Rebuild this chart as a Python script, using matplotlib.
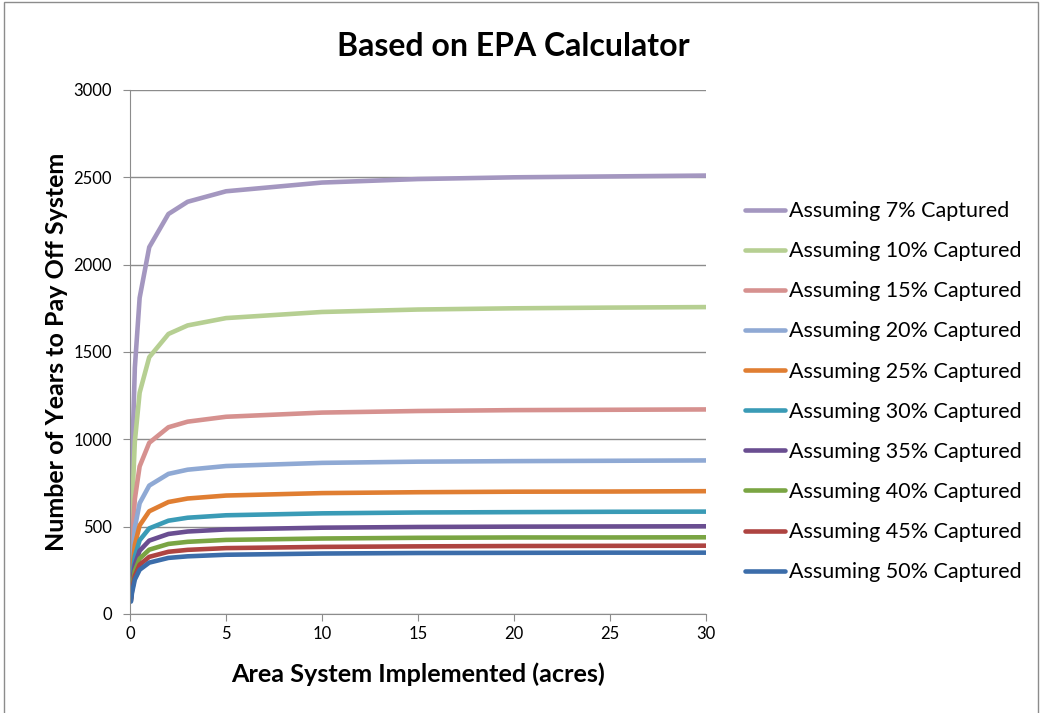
"""Years to pay off system vs. implemented area, based on EPA calculator."""

import matplotlib
matplotlib.use("Agg")
import matplotlib.pyplot as plt
from matplotlib.patches import Rectangle

plt.rcParams["font.family"] = ["Lato", "DejaVu Sans"]

acres = [0.05, 0.1, 0.25, 0.5, 1, 2, 3, 5, 10, 15, 20, 25, 30]

labels = [
    "Assuming 7% Captured",
    "Assuming 10% Captured",
    "Assuming 15% Captured",
    "Assuming 20% Captured",
    "Assuming 25% Captured",
    "Assuming 30% Captured",
    "Assuming 35% Captured",
    "Assuming 40% Captured",
    "Assuming 45% Captured",
    "Assuming 50% Captured",
]

years_7 = [510, 850, 1410, 1810, 2100, 2290, 2360, 2420, 2470, 2490, 2500, 2505, 2510]
years_10 = [357, 595, 987, 1267, 1470, 1603, 1652, 1694, 1729, 1743, 1750, 1754, 1757]
years_15 = [238, 397, 658, 845, 980, 1069, 1101, 1129, 1153, 1162, 1167, 1169, 1171]
years_20 = [179, 298, 494, 634, 735, 802, 826, 847, 865, 872, 875, 877, 879]
years_25 = [143, 238, 395, 507, 588, 641, 661, 678, 692, 697, 700, 701, 703]
years_30 = [119, 198, 329, 422, 490, 534, 551, 565, 576, 581, 583, 585, 586]
years_35 = [102, 170, 282, 362, 420, 458, 472, 484, 494, 498, 500, 501, 502]
years_40 = [89, 149, 247, 317, 368, 401, 413, 424, 432, 436, 438, 438, 439]
years_45 = [79, 132, 219, 282, 327, 356, 367, 377, 384, 387, 389, 390, 391]
years_50 = [71, 119, 197, 253, 294, 321, 330, 339, 346, 349, 350, 351, 351]

series = [years_7, years_10, years_15, years_20, years_25,
          years_30, years_35, years_40, years_45, years_50]

colors = ["#A497C0", "#B6CF92", "#D6918F", "#8FA9D4", "#E07E32",
          "#3A9BB6", "#6A4E91", "#7AA543", "#AE4441", "#3C6DAA"]

fig = plt.figure(figsize=(10.42, 7.13), dpi=100)
ax = fig.add_axes([0.1248, 0.1389, 0.5527, 0.7349])

handles = []
for vals, color, label in zip(series, colors, labels):
    (h,) = ax.plot(acres, vals, color=color, lw=3.3, label=label,
                   solid_joinstyle="round", solid_capstyle="round")
    handles.append(h)

ax.set_xlim(0, 30)
ax.set_ylim(0, 3000)
ax.set_xticks(range(0, 31, 5))
ax.set_yticks(range(0, 3001, 500))
ax.grid(axis="y", color="#8c8c8c", lw=1)
ax.set_axisbelow(True)
for side in ("top", "right"):
    ax.spines[side].set_visible(False)
for side in ("left", "bottom"):
    ax.spines[side].set_color("#8c8c8c")
ax.tick_params(direction="out", length=5, color="#8c8c8c", labelsize=12,
               labelcolor="black")
ax.tick_params(axis="y", pad=8)

fig.text(513 / 1042, 1 - 47 / 713, "Based on EPA Calculator", fontsize=23,
         fontweight="bold", ha="center", va="center")
ax.set_xlabel("Area System Implemented (acres)", fontsize=18.2,
              fontweight="bold", labelpad=15)
ax.set_ylabel("Number of Years to Pay Off System", fontsize=18,
              fontweight="bold", labelpad=4)

fig.legend(handles=handles, loc="upper left", bbox_to_anchor=(0.715, 0.718),
           frameon=False, fontsize=15.5, handlelength=1.86, handletextpad=0.19,
           labelspacing=0.935, borderpad=0, borderaxespad=0)

fig.patches.append(Rectangle((4 / 1042, -0.02), 1034 / 1042, 1.0 - 2 / 713 + 0.02,
                             transform=fig.transFigure, fill=False,
                             edgecolor="#8c8c8c", lw=1))

fig.savefig("out.png", dpi=100)
